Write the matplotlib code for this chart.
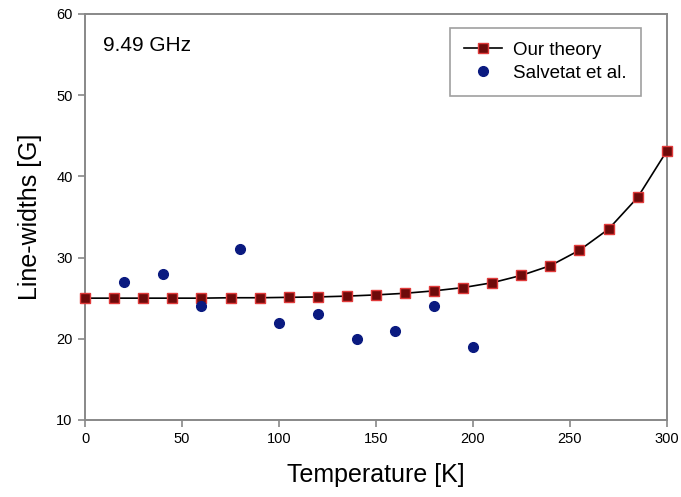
import matplotlib
matplotlib.use("Agg")
import matplotlib.pyplot as plt

plt.rcParams['font.family'] = ['Liberation Sans', 'DejaVu Sans']

# data
temp_theory = [0, 15, 30, 45, 60, 75, 90, 105, 120, 135, 150, 165, 180, 195,
               210, 225, 240, 255, 270, 285, 300]
width_theory = [25.0, 25.0, 25.0, 25.0, 25.0, 25.05, 25.05, 25.1, 25.15, 25.25,
                25.4, 25.6, 25.9, 26.3, 26.9, 27.8, 29.0, 30.9, 33.5, 37.4, 43.1]

temp_salvetat = [20, 40, 60, 80, 100, 120, 140, 160, 180, 200]
width_salvetat = [27, 28, 24, 31, 22, 23, 20, 21, 24, 19]

xticks = [0, 50, 100, 150, 200, 250, 300]
yticks = [10, 20, 30, 40, 50, 60]

fig = plt.figure(figsize=(6.81, 4.97), dpi=100)
ax = fig.add_axes([0.125, 0.155, 0.854, 0.817])

ax.plot(temp_theory, width_theory, color='black', lw=1.2, marker='s',
        markersize=7.5, markerfacecolor='#6e0a0a', markeredgecolor='#e03a3a',
        markeredgewidth=1.0, label='Our theory', zorder=3, clip_on=False)
ax.plot(temp_salvetat, width_salvetat, ls='none', marker='o', markersize=7,
        markerfacecolor='#0a1a80', markeredgecolor='#0a1a80',
        label='Salvetat et al.', zorder=3)

ax.set_xlim(0, 300)
ax.set_ylim(10, 60)
ax.set_xticks(xticks)
ax.set_yticks(yticks)

for s in ax.spines.values():
    s.set_color('#888888')
    s.set_linewidth(1.4)
ax.tick_params(direction='out', length=5, width=1.2, color='#888888',
               labelsize=10.5, pad=4)

ax.set_xlabel('Temperature [K]', fontsize=18, labelpad=12)
ax.set_ylabel('Line-widths [G]', fontsize=18, labelpad=10)

ax.text(9.3, 56.1, '9.49 GHz', fontsize=15, va='center', ha='left')

leg = ax.legend(loc='upper right', bbox_to_anchor=(0.955, 0.966), fontsize=13.5,
                frameon=True, fancybox=False, handlelength=2.0,
                borderpad=0.75, labelspacing=0.3, handletextpad=0.6,
                borderaxespad=0)
leg.get_frame().set_edgecolor('#888888')
leg.get_frame().set_linewidth(1.2)

fig.savefig('out.png', dpi=100)
